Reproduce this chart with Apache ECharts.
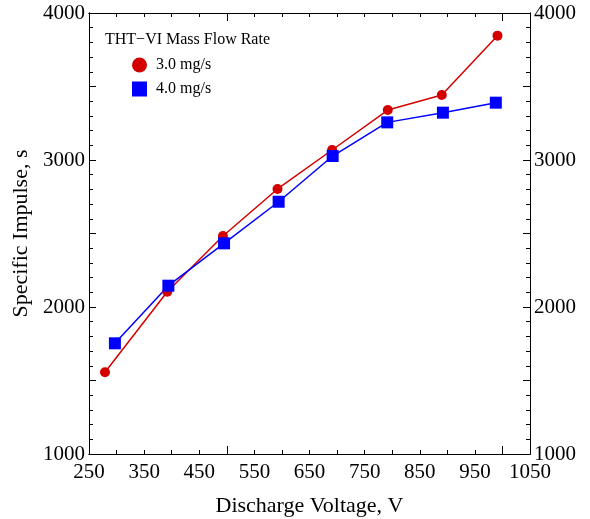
<!DOCTYPE html>
<html>
<head>
<meta charset="utf-8">
<script src="https://cdn.jsdelivr.net/npm/echarts@6/dist/echarts.min.js"></script>
<style>
html,body{margin:0;padding:0;background:#fff}
#chart{width:590px;height:519px}
</style>
</head>
<body>
<div id="chart"></div>
<script>
const voltage30 = [279, 392, 493, 592, 691, 792, 890, 991]
const isp30 = [1556, 2104, 2483, 2803, 3068, 3340, 3442, 3846]
const voltage40 = [297, 394, 495, 594, 692, 791, 892, 988]
const isp40 = [1753, 2145, 2433, 2716, 3027, 3256, 3322, 3390]

// tick / label values
const xLabels = [250, 350, 450, 550, 650, 750, 850, 950, 1050]
const xMinor = [300, 350, 400, 450, 550, 600, 650, 700, 750, 800, 850, 900, 950, 1050]
const xMajor = [500, 1000]
const yLabels = [1000, 2000, 3000, 4000]
const yMinor = [1100, 1200, 1300, 1400, 1600, 1700, 1800, 1900, 2100, 2200, 2300, 2400,
  2600, 2700, 2800, 2900, 3100, 3200, 3300, 3400, 3600, 3700, 3800, 3900]
const yMajor = [1000, 1500, 2000, 2500, 3000, 3500, 4000]

const font = 'Liberation Serif'
const black = '#000'

function makeX(pos, ticks, len, withLabels) {
  return {
    type: 'value', position: pos, min: 250, max: 1050, interval: 50,
    splitLine: { show: false },
    axisLine: { show: true, onZero: false, lineStyle: { color: black, width: 1 } },
    axisTick: { show: true, inside: true, length: len, customValues: ticks, lineStyle: { color: black, width: 1 } },
    axisLabel: withLabels ? {
      show: true, customValues: xLabels, margin: 8,
      formatter: v => String(v),
      fontFamily: font, fontSize: 21, color: black
    } : { show: false },
    name: withLabels ? 'Discharge Voltage, V' : '',
    nameLocation: 'middle', nameGap: 41,
    nameTextStyle: { fontFamily: font, fontSize: 22, color: black }
  }
}

function makeY(pos, ticks, len, withLabels, title) {
  return {
    type: 'value', position: pos, min: 1000, max: 4000, interval: 100,
    splitLine: { show: false },
    axisLine: { show: true, onZero: false, lineStyle: { color: black, width: 1 } },
    axisTick: { show: true, inside: true, length: len, customValues: ticks, lineStyle: { color: black, width: 1 } },
    axisLabel: withLabels ? {
      show: true, customValues: yLabels, margin: 4,
      padding: [6, 0, 0, 0],
      formatter: v => String(v),
      fontFamily: font, fontSize: 21, color: black
    } : { show: false },
    name: title || '',
    nameLocation: 'middle', nameGap: 50, nameRotate: 90,
    nameTextStyle: { fontFamily: font, fontSize: 22, color: black }
  }
}

const chart = echarts.init(document.getElementById('chart'))

const option = {
  backgroundColor: '#fff',
  animation: false,
  grid: { left: 89, right: 60, top: 13, bottom: 65, containLabel: false, outerBoundsMode: 'none' },
  title: {
    text: 'THT\u2212VI Mass Flow Rate',
    left: 100, top: 27,
    textStyle: { fontFamily: font, fontSize: 16, fontWeight: 'normal', color: black }
  },
  legend: {
    orient: 'vertical', left: 127, top: 52,
    itemWidth: 15, itemHeight: 15, itemGap: 8,
    textStyle: { fontFamily: font, fontSize: 16, color: black, padding: [0, 0, 0, 4] },
    data: [
      { name: '3.0 mg/s', icon: 'circle' },
      { name: '4.0 mg/s', icon: 'rect' }
    ]
  },
  xAxis: [
    makeX('bottom', xMinor, 4, true),
    makeX('bottom', xMajor, 8, false),
    makeX('top', xMinor, 4, false),
    makeX('top', xMajor, 8, false)
  ],
  yAxis: [
    makeY('left', yMinor, 4, true, 'Specific Impulse, s'),
    makeY('left', yMajor, 7, false),
    makeY('right', yMinor, 4, true),
    makeY('right', yMajor, 7, false)
  ],
  series: [
    {
      name: '3.0 mg/s', type: 'line', xAxisIndex: 0, yAxisIndex: 0,
      symbol: 'circle', symbolSize: 10,
      itemStyle: { color: '#d40000' },
      lineStyle: { color: '#d40000', width: 1.5 },
      data: voltage30.map((v, i) => [v, isp30[i]])
    },
    {
      name: '4.0 mg/s', type: 'line', xAxisIndex: 0, yAxisIndex: 0,
      symbol: 'rect', symbolSize: 12,
      itemStyle: { color: '#0000ff' },
      lineStyle: { color: '#0000ff', width: 1.5 },
      data: voltage40.map((v, i) => [v, isp40[i]])
    }
  ]
}

chart.setOption(option)
</script>
</body>
</html>
